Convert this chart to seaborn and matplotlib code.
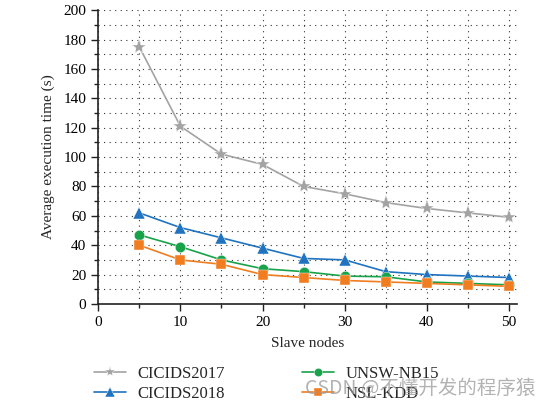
import pandas as pd
import seaborn as sns
import matplotlib.pyplot as plt
from matplotlib.ticker import MultipleLocator

# Values
nodes = [5, 10, 15, 20, 25, 30, 35, 40, 45, 50]
cicids2017 = [175, 121, 102, 95, 80, 75, 69, 65, 62, 59]
cicids2018 = [62, 52, 45, 38, 31, 30, 22, 20, 19, 18]
unsw_nb15 = [47, 39, 30, 24, 22, 19, 18.5, 15, 14, 13]
nsl_kdd = [40, 30, 27, 20, 18, 16, 15, 14, 13, 12]

datasets = ['CICIDS2017', 'CICIDS2018', 'UNSW-NB15', 'NSL-KDD']
series = [cicids2017, cicids2018, unsw_nb15, nsl_kdd]

# Long-form table for seaborn
df = pd.concat([pd.DataFrame({'Slave nodes': nodes, 'Time': vals, 'Dataset': name})
                for name, vals in zip(datasets, series)], ignore_index=True)

sns.set_style('ticks')
plt.rcParams['font.family'] = ['Liberation Serif', 'DejaVu Serif']
plt.rcParams['font.size'] = 11

palette = {'CICIDS2017': '#a3a3a3', 'CICIDS2018': '#1f73bf',
           'UNSW-NB15': '#18a24a', 'NSL-KDD': '#f07d20'}
markers = {'CICIDS2017': '*', 'CICIDS2018': '^', 'UNSW-NB15': 'o', 'NSL-KDD': 's'}
msizes = {'CICIDS2017': 11, 'CICIDS2018': 8, 'UNSW-NB15': 7.5, 'NSL-KDD': 7}
leg_sizes = {'CICIDS2017': 8, 'CICIDS2018': 7, 'UNSW-NB15': 6, 'NSL-KDD': 6}

fig = plt.figure(figsize=(5.52, 4.08), dpi=100)
ax = fig.add_axes([0.178, 0.255, 0.759, 0.72])

sns.lineplot(data=df, x='Slave nodes', y='Time', hue='Dataset', style='Dataset',
             hue_order=datasets, style_order=datasets, palette=palette,
             markers=markers, dashes=False, markersize=8, markeredgewidth=0.3,
             linewidth=1.2, ax=ax)

# per-series marker size (star drawn larger, as in the reference)
for line, name in zip(ax.lines, datasets):
    line.set_markersize(msizes[name])

ax.set_xlim(0, 51)
ax.set_ylim(0, 200)
ax.xaxis.set_major_locator(MultipleLocator(10))
ax.xaxis.set_minor_locator(MultipleLocator(5))
ax.yaxis.set_major_locator(MultipleLocator(20))
ax.yaxis.set_minor_locator(MultipleLocator(10))
ax.grid(which='both', linestyle=(0, (1, 4)), color='#333333', linewidth=0.8)
ax.tick_params(which='major', length=5, width=1, colors='#222222', labelcolor='black')
ax.tick_params(which='minor', length=3, width=1, colors='#222222')
sns.despine(ax=ax)
for s in ['left', 'bottom']:
    ax.spines[s].set_color('#222222')
    ax.spines[s].set_linewidth(1.2)

ax.set_xlabel('Slave nodes', labelpad=6)
ax.set_ylabel('Average execution time (s)', labelpad=6)

handles, labels = ax.get_legend_handles_labels()
leg = ax.legend(handles, labels, loc='upper left', bbox_to_anchor=(-0.045, -0.16),
                ncol=2, frameon=False, columnspacing=4.6, handlelength=1.9,
                handletextpad=0.7, labelspacing=0.25, fontsize=12)
for h, name in zip(leg.legend_handles, labels):
    h.set_markersize(leg_sizes[name])

# watermark present on the reference image
fig.text(0.97, 0.022, 'CSDN @不懂开发的程序猿', ha='right', va='bottom',
         fontsize=14, color='#9a9a9a', alpha=0.75,
         family=['Noto Sans CJK SC', 'DejaVu Sans'])

fig.savefig('out.png', dpi=100)
